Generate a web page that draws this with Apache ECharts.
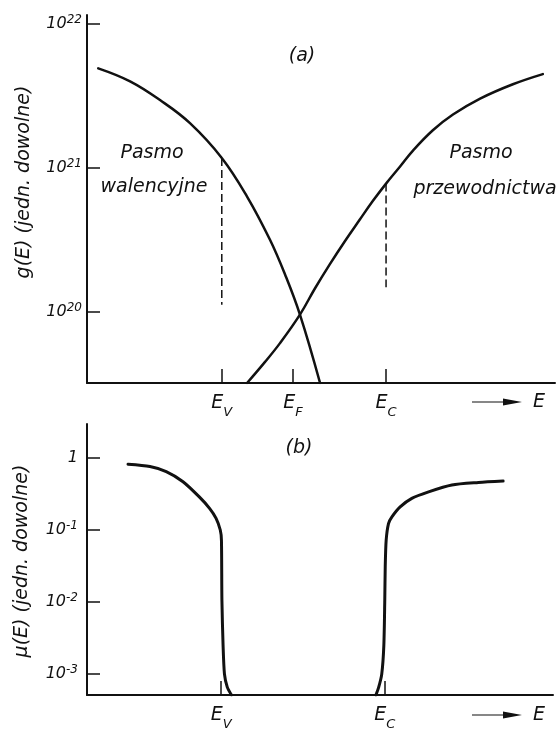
<!DOCTYPE html>
<html>
<head>
<meta charset="utf-8">
<script src="https://cdn.jsdelivr.net/npm/echarts@6/dist/echarts.min.js"></script>
<style>
  html, body { margin: 0; padding: 0; background: #fff; }
  #chart { width: 557px; height: 729px; }
</style>
</head>
<body>
<div id="chart"></div>
<script>
// Energy scale in arbitrary units (0 at the g/μ axis, 100 at the right end)
const E_V = 28.8;   // valence band edge
const E_F = 44.0;   // Fermi level
const E_C = 63.9;   // conduction band edge

// (a) density of states g(E), arbitrary units
const valenceE   = [2.4, 9.2, 15.6, 22.0, 28.8, 34.2, 39.1, 42.3, 45.5, 49.8];
const valenceG   = [4.9e21, 3.98e21, 2.95e21, 2.04e21, 1.17e21, 6.31e20, 3.16e20, 1.82e20, 9.55e19, 3.2e19];
const conductE   = [34.2, 38.0, 41.2, 45.5, 48.7, 51.9, 55.1, 58.3, 61.1, 63.9, 66.9, 69.7, 73.9, 78.2, 84.0, 91.0, 97.4];
const conductG   = [3.2e19, 4.47e19, 6.03e19, 9.55e19, 1.45e20, 2.14e20, 3.09e20, 4.37e20, 5.89e20, 7.76e20, 1.02e21, 1.32e21, 1.82e21, 2.34e21, 3.02e21, 3.8e21, 4.47e21];
// dashed drop lines under the band edges: [top, bottom]
const dropV = [1.17e21, 1.12e20];
const dropC = [7.76e20, 1.48e20];
const gTicks = [1e20, 1e21, 1e22];

// (b) mobility μ(E), arbitrary units
const muValE  = [8.8, 13.5, 17.0, 20.6, 24.1, 26.3, 27.7, 28.6, 28.85, 28.95, 29.2, 29.5, 30.1, 31.0];
const muVal   = [0.817, 0.759, 0.646, 0.468, 0.288, 0.200, 0.145, 0.100, 0.0724, 0.0107, 0.00251, 0.001, 0.00066, 0.000513];
const muConE  = [62.0, 62.6, 63.25, 63.7, 63.9, 64.0, 64.2, 64.7, 65.4, 67.2, 69.7, 73.3, 78.3, 84.0, 89.3];
const muCon   = [0.000513, 0.00066, 0.001, 0.00251, 0.0107, 0.0316, 0.0724, 0.123, 0.151, 0.209, 0.275, 0.339, 0.422, 0.457, 0.479];
const muTicks = [1, 0.1, 0.01, 0.001];

const FONT = 'DejaVu Sans';
const INK = '#111';

const zip = (xs, ys) => xs.map((x, i) => [x, ys[i]]);

const baseText = { fontFamily: FONT, fontStyle: 'italic', color: INK };

const powRich = {
  b: Object.assign({ fontSize: 16, lineHeight: 20 }, baseText),
  s: Object.assign({ fontSize: 12, lineHeight: 12, verticalAlign: 'top' }, baseText)
};
// subscript is bottom-aligned in a slightly taller line so it drops below the E
const subRich = {
  e: Object.assign({ fontSize: 19, lineHeight: 19, verticalAlign: 'top' }, baseText),
  s: Object.assign({ fontSize: 13, lineHeight: 25, verticalAlign: 'bottom' }, baseText)
};

const edgeName = {};
edgeName[E_V] = 'V'; edgeName[E_F] = 'F'; edgeName[E_C] = 'C';
const edgeLabel = v => '{e|E}{s|' + (edgeName[v] || '') + '}';

const powLabel = v => {
  const n = Math.round(Math.log10(v));
  if (n === 0) return '{b|1}';
  return '{b|10}{s|' + n + '}';
};

function xAxisFor(grid, ticks) {
  return {
    gridIndex: grid, type: 'value', min: 0, max: 100,
    axisLine: { show: true, lineStyle: { color: INK, width: 2 } },
    axisTick: { show: true, inside: true, length: 14, customValues: ticks, lineStyle: { color: INK, width: 1.5 } },
    axisLabel: { show: true, customValues: ticks, margin: 11, formatter: edgeLabel, rich: subRich },
    splitLine: { show: false }
  };
}

function yAxisFor(grid, min, max, ticks, margin) {
  return {
    gridIndex: grid, type: 'log', logBase: 10, min: min, max: max,
    axisLine: { show: true, lineStyle: { color: INK, width: 2 } },
    axisTick: { show: true, inside: true, length: 13, customValues: ticks, lineStyle: { color: INK, width: 1.5 } },
    axisLabel: { show: true, customValues: ticks, margin: margin, formatter: powLabel, rich: powRich },
    splitLine: { show: false },
    minorTick: { show: false }
  };
}

function curve(xi, yi, data, width, smooth) {
  return {
    type: 'line', xAxisIndex: xi, yAxisIndex: yi, data: data,
    showSymbol: false, smooth: smooth, silent: true, z: 3,
    lineStyle: { color: INK, width: width, cap: 'round', join: 'round' }
  };
}

function drop(x, ends) {
  return {
    type: 'line', xAxisIndex: 0, yAxisIndex: 0,
    data: [[x, ends[0]], [x, ends[1]]],
    showSymbol: false, silent: true,
    lineStyle: { color: INK, width: 1.5, type: [8, 4] }
  };
}

function textEl(text, x, y, size, rotation) {
  return {
    type: 'text', x: x, y: y, rotation: rotation || 0, silent: true,
    style: {
      text: text, fontFamily: FONT, fontStyle: 'italic', fontSize: size,
      fill: INK, align: 'center', verticalAlign: 'middle'
    }
  };
}

function arrowEl(y) {
  return {
    type: 'group', silent: true,
    children: [
      { type: 'line', shape: { x1: 472, y1: y, x2: 507, y2: y }, style: { stroke: INK, lineWidth: 1.2 } },
      { type: 'polygon', shape: { points: [[503, y - 3.5], [522, y], [503, y + 3.5]] }, style: { fill: INK } },
      textEl('E', 539, y, 19)
    ]
  };
}

const chart = echarts.init(document.getElementById('chart'), null, { renderer: 'canvas' });

chart.setOption({
  backgroundColor: '#fff',
  animation: false,
  grid: [
    { left: 87, right: 2, top: 15, height: 368, containLabel: false, outerBoundsMode: 'none' },
    { left: 87, right: 4, top: 424, height: 271, containLabel: false, outerBoundsMode: 'none' }
  ],
  xAxis: [
    xAxisFor(0, [E_V, E_F, E_C]),
    xAxisFor(1, [E_V, E_C])
  ],
  yAxis: [
    yAxisFor(0, 3.2e19, 1.15e22, gTicks, 5),
    yAxisFor(1, 5.13e-4, 2.96, muTicks, 9)
  ],
  series: [
    curve(0, 0, zip(valenceE, valenceG), 2.5, 0.4),
    curve(0, 0, zip(conductE, conductG), 2.5, 0.4),
    drop(E_V, dropV),
    drop(E_C, dropC),
    curve(1, 1, zip(muValE, muVal), 3, 0.25),
    curve(1, 1, zip(muConE, muCon), 3, 0.25)
  ],
  graphic: [
    textEl('g(E) (jedn. dowolne)', 24, 182, 19, Math.PI / 2),
    textEl('μ(E) (jedn. dowolne)', 22, 561, 19, Math.PI / 2),
    textEl('(a)', 302, 56, 19),
    textEl('(b)', 299, 448, 19),
    textEl('Pasmo', 152, 153, 19),
    textEl('walencyjne', 154, 187, 19),
    textEl('Pasmo', 481, 153, 19),
    textEl('przewodnictwa', 485, 189, 19),
    arrowEl(402),
    arrowEl(715)
  ]
});
</script>
</body>
</html>
